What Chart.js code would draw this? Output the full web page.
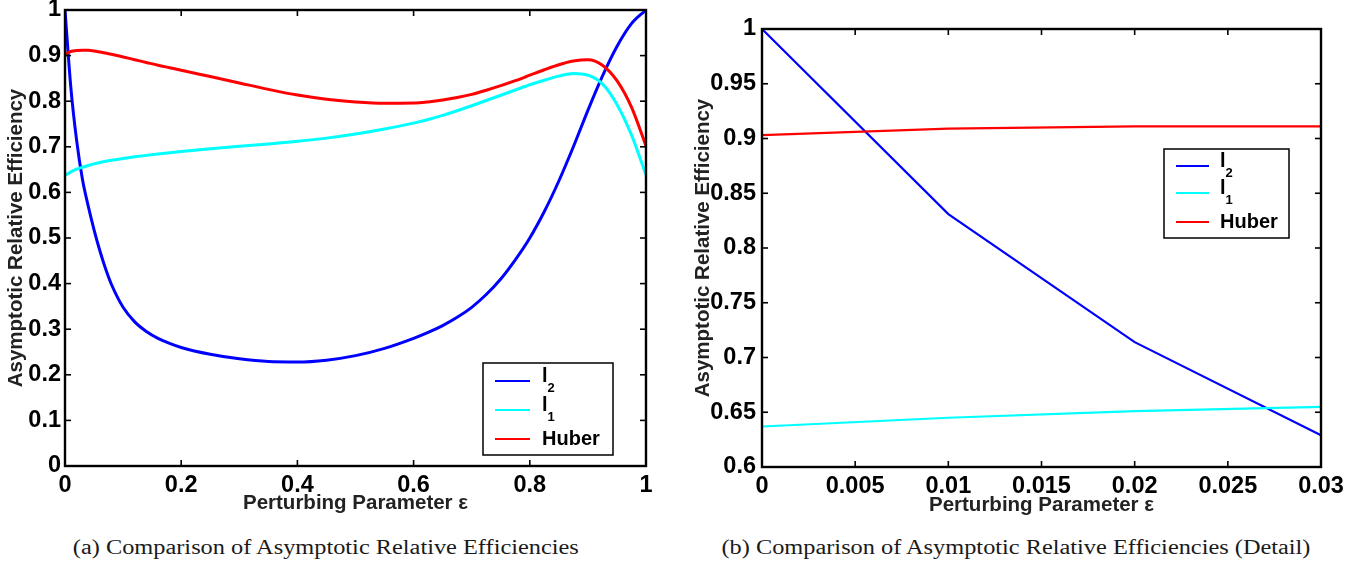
<!DOCTYPE html>
<html>
<head>
<meta charset="utf-8">
<script src="https://cdn.jsdelivr.net/npm/chart.js@4.4.1/dist/chart.umd.min.js"></script>
<style>
  html, body { margin: 0; padding: 0; background: #fff; }
  body { width: 1372px; height: 565px; position: relative; overflow: hidden; }
  #wrapA { position: absolute; left: 0; top: 0; width: 680px; height: 520px; }
  #wrapB { position: absolute; left: 680px; top: 0; width: 692px; height: 520px; }
  .cap {
    position: absolute; top: 535px; white-space: nowrap;
    font-family: 'Liberation Serif', 'Times New Roman', serif;
    font-size: 20px; line-height: 24px; color: #1a1a1a;
    transform-origin: center center;
  }
</style>
</head>
<body>
<div id="wrapA"><canvas id="chartA" width="680" height="520"></canvas></div>
<div id="wrapB"><canvas id="chartB" width="692" height="520"></canvas></div>
<div class="cap" id="capA">(a) Comparison of Asymptotic Relative Efficiencies</div>
<div class="cap" id="capB">(b) Comparison of Asymptotic Relative Efficiencies (Detail)</div>

<script>
// ---- full range of the perturbing parameter ----
const epsFull = [0, 0.01, 0.02, 0.03, 0.04, 0.05, 0.06, 0.07, 0.08, 0.1, 0.12, 0.14, 0.16, 0.18,
  0.2, 0.25, 0.3, 0.35, 0.4, 0.45, 0.5, 0.55, 0.6, 0.625, 0.65, 0.675, 0.7, 0.725, 0.75, 0.775,
  0.8, 0.825, 0.85, 0.875, 0.9, 0.925, 0.95, 0.975, 1];
const l2Full = [1.0, 0.831, 0.714, 0.629, 0.570, 0.518, 0.472, 0.432, 0.398, 0.348, 0.316, 0.295,
  0.280, 0.269, 0.260, 0.245, 0.235, 0.229, 0.228, 0.232, 0.242, 0.258, 0.280, 0.293, 0.308,
  0.326, 0.348, 0.376, 0.410, 0.452, 0.500, 0.558, 0.625, 0.700, 0.780, 0.855, 0.920, 0.970, 1.0];
const l1Full = [0.637, 0.645, 0.651, 0.655, 0.6590, 0.6625, 0.6655, 0.6682, 0.6705, 0.6745,
  0.6780, 0.6812, 0.6842, 0.6870, 0.6896, 0.6955, 0.7010, 0.7063, 0.7120, 0.7190, 0.7280,
  0.7390, 0.7520, 0.7600, 0.7690, 0.7790, 0.7900, 0.8015, 0.8130, 0.8245, 0.8360, 0.8460,
  0.8550, 0.8610, 0.8570, 0.8380, 0.7930, 0.7260, 0.6380];
const huberFull = [0.903, 0.909, 0.911, 0.912, 0.9115, 0.910, 0.908, 0.9055, 0.903, 0.897,
  0.891, 0.885, 0.879, 0.8735, 0.868, 0.854, 0.840, 0.826, 0.8135, 0.8045, 0.7985, 0.7955,
  0.7960, 0.7985, 0.8025, 0.8080, 0.8150, 0.8240, 0.8340, 0.8450, 0.8570, 0.8690, 0.8800,
  0.8880, 0.8910, 0.8790, 0.8450, 0.7870, 0.7020];

// ---- detail near zero ----
const epsDetail = [0, 0.01, 0.02, 0.03];
const l2Detail = [1.0, 0.831, 0.714, 0.629];
const l1Detail = [0.637, 0.645, 0.651, 0.655];
const huberDetail = [0.903, 0.909, 0.911, 0.911];

// ---- tick values and labels ----
const xTicksFull = [0, 0.2, 0.4, 0.6, 0.8, 1];
const xLabelsFull = ['0', '0.2', '0.4', '0.6', '0.8', '1'];
const yTicksFull = [0, 0.1, 0.2, 0.3, 0.4, 0.5, 0.6, 0.7, 0.8, 0.9, 1];
const yLabelsFull = ['0', '0.1', '0.2', '0.3', '0.4', '0.5', '0.6', '0.7', '0.8', '0.9', '1'];
const xTicksDetail = [0, 0.005, 0.01, 0.015, 0.02, 0.025, 0.03];
const xLabelsDetail = ['0', '0.005', '0.01', '0.015', '0.02', '0.025', '0.03'];
const yTicksDetail = [0.6, 0.65, 0.7, 0.75, 0.8, 0.85, 0.9, 0.95, 1];
const yLabelsDetail = ['0.6', '0.65', '0.7', '0.75', '0.8', '0.85', '0.9', '0.95', '1'];

// ---- series naming (base letter + subscript) ----
const seriesBase = ['l', 'l', 'Huber'];
const seriesSub = ['2', '1', ''];
const seriesColors = ['#0000ff', '#00ffff', '#ff0000'];

const xTitle = 'Perturbing Parameter \u03b5';
const yTitle = 'Asymptotic Relative Efficiency';

const TICK_FONT = { family: "'Liberation Sans Narrow', 'Liberation Sans', Arial, sans-serif", weight: 'bold', size: 23.5 };
const TITLE_FONT = { family: "'Liberation Sans', Arial, sans-serif", weight: 'bold', size: 20.5 };

// Box, inward tick marks on all four sides, and the legend panel
const framePlugin = {
  id: 'frameLegend',
  afterDatasetsDraw(chart, args, opts) {
    const { ctx, chartArea: a } = chart;
    const xs = chart.scales.x, ys = chart.scales.y;
    const seg = (x1, y1, x2, y2) => { ctx.beginPath(); ctx.moveTo(x1, y1); ctx.lineTo(x2, y2); ctx.stroke(); };
    ctx.save();
    ctx.strokeStyle = '#000';
    ctx.lineWidth = 1.6;
    const tl = 6;
    xs.ticks.forEach(t => {
      const p = xs.getPixelForValue(t.value);
      seg(p, a.bottom, p, a.bottom - tl);
      seg(p, a.top, p, a.top + tl);
    });
    ys.ticks.forEach(t => {
      const p = ys.getPixelForValue(t.value);
      seg(a.left, p, a.left + tl, p);
      seg(a.right, p, a.right - tl, p);
    });
    ctx.lineWidth = 2.4;
    ctx.strokeRect(a.left, a.top, a.right - a.left, a.bottom - a.top);

    // legend
    const L = opts.box;
    const bx = L.fromRight != null ? a.right - L.fromRight : a.left + L.fromLeft;
    const by = L.fromBottom != null ? a.bottom - L.fromBottom : a.top + L.fromTop;
    ctx.fillStyle = '#fff';
    ctx.fillRect(bx, by, L.w, L.h);
    ctx.lineWidth = 1.5;
    ctx.strokeStyle = '#000';
    ctx.strokeRect(bx, by, L.w, L.h);
    chart.data.datasets.forEach((ds, i) => {
      const ry = by + L.rows[i];
      ctx.strokeStyle = ds.borderColor;
      ctx.lineWidth = 2.2;
      seg(bx + L.lineX0, ry, bx + L.lineX1, ry);
      ctx.fillStyle = '#000';
      ctx.textAlign = 'left';
      ctx.textBaseline = 'alphabetic';
      ctx.font = "bold 20px 'Liberation Sans', Arial, sans-serif";
      const tx = bx + L.textX;
      if (seriesSub[i]) {
        ctx.fillText(seriesBase[i], tx, ry + 1);
        const w = ctx.measureText(seriesBase[i]).width;
        ctx.font = "bold 13px 'Liberation Sans', Arial, sans-serif";
        ctx.fillText(seriesSub[i], tx + w, ry + 11);
      } else {
        ctx.fillText(seriesBase[i], tx, ry + 6);
      }
    });
    ctx.restore();
  }
};

function buildChart(canvasId, g) {
  const datasets = g.series.map((vals, i) => ({
    label: seriesBase[i] + seriesSub[i],
    data: g.eps.map((e, k) => ({ x: e, y: vals[k] })),
    borderColor: seriesColors[i],
    backgroundColor: seriesColors[i],
    borderWidth: g.lineWidth,
    pointRadius: 0,
    fill: false,
    tension: g.tension,
    cubicInterpolationMode: g.tension ? 'monotone' : 'default',
    order: 2 - i
  }));
  return new Chart(document.getElementById(canvasId), {
    type: 'line',
    data: { datasets },
    options: {
      responsive: false,
      animation: false,
      devicePixelRatio: 1,
      layout: { padding: { top: g.padTop, right: g.padRight, left: 0, bottom: 0 } },
      plugins: {
        legend: { display: false },
        tooltip: { enabled: false },
        frameLegend: { box: g.legend }
      },
      scales: {
        x: {
          type: 'linear', min: g.xMin, max: g.xMax,
          grid: { display: false, drawTicks: false },
          border: { display: false },
          afterBuildTicks: s => { s.ticks = g.xTicks.map(v => ({ value: v })); },
          afterFit: s => { s.height = g.xAxisH; s.paddingLeft = 0; s.paddingRight = 0; },
          ticks: {
            autoSkip: false, maxRotation: 0, padding: 5,
            color: '#000', font: TICK_FONT,
            callback: (v, idx) => g.xLabels[idx]
          },
          title: { display: true, text: xTitle, color: '#222', font: TITLE_FONT, padding: { top: 0, bottom: g.xTitlePad } }
        },
        y: {
          type: 'linear', min: g.yMin, max: g.yMax,
          grid: { display: false, drawTicks: false },
          border: { display: false },
          afterBuildTicks: s => { s.ticks = g.yTicks.map(v => ({ value: v })); },
          afterFit: s => { s.width = g.yAxisW; s.paddingTop = 0; s.paddingBottom = 0; },
          ticks: {
            autoSkip: false, padding: g.yTickPad,
            color: '#000', font: TICK_FONT,
            callback: (v, idx) => g.yLabels[idx]
          },
          title: { display: true, text: yTitle, color: '#222', font: TITLE_FONT, padding: { top: g.yTitlePad, bottom: 0 } }
        }
      }
    },
    plugins: [framePlugin]
  });
}

buildChart('chartA', {
  eps: epsFull, series: [l2Full, l1Full, huberFull],
  xMin: 0, xMax: 1, yMin: 0, yMax: 1,
  xTicks: xTicksFull, xLabels: xLabelsFull, yTicks: yTicksFull, yLabels: yLabelsFull,
  lineWidth: 3, tension: 0.4,
  padTop: 10, padRight: 34, yAxisW: 65, xAxisH: 54, yTitlePad: 4, yTickPad: 4, xTitlePad: 4,
  legend: { fromRight: 163, fromBottom: 103, w: 130, h: 92, rows: [18, 47, 76], lineX0: 12, lineX1: 47, textX: 59 }
});

buildChart('chartB', {
  eps: epsDetail, series: [l2Detail, l1Detail, huberDetail],
  xMin: 0, xMax: 0.03, yMin: 0.6, yMax: 1,
  xTicks: xTicksDetail, xLabels: xLabelsDetail, yTicks: yTicksDetail, yLabels: yLabelsDetail,
  lineWidth: 2.2, tension: 0,
  padTop: 29, padRight: 51, yAxisW: 82, xAxisH: 53, yTitlePad: 11, yTickPad: 6, xTitlePad: 2,
  legend: { fromLeft: 402, fromTop: 120, w: 125, h: 89, rows: [17, 44, 73], lineX0: 12, lineX1: 45, textX: 56 }
});

// captions: centred under each panel and fitted to their line length
function placeCaption(id, centre, width) {
  const el = document.getElementById(id);
  const w = el.getBoundingClientRect().width;
  el.style.left = (centre - w / 2) + 'px';
  el.style.transform = 'scaleX(' + (width / w) + ')';
}
placeCaption('capA', 326, 506);
placeCaption('capB', 1016, 589);
</script>
</body>
</html>
